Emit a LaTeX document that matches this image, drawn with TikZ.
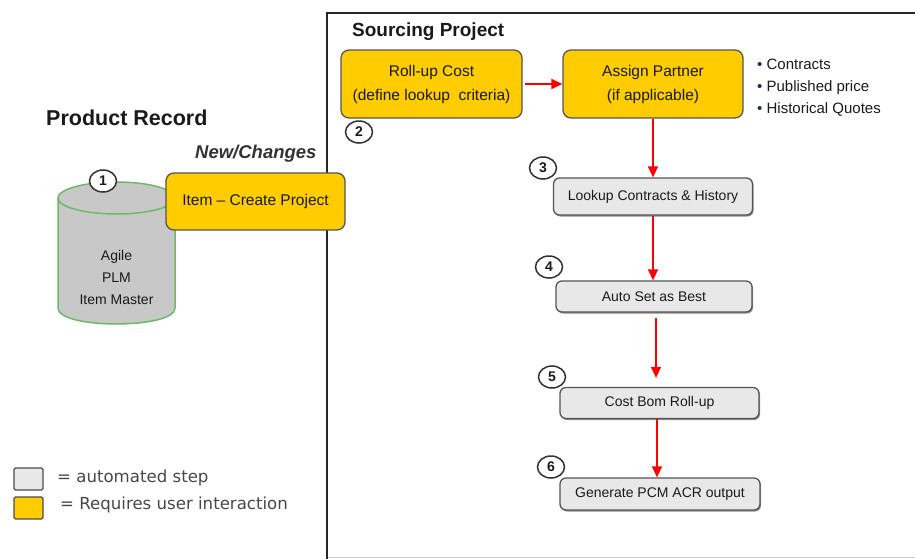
\documentclass[tikz,border=0pt]{standalone}
\usepackage{fontspec}
\setmainfont{Liberation Sans}
\newfontfamily\legendfont{DejaVu Sans}
\usetikzlibrary{arrows.meta,shapes.geometric,shadows}
\definecolor{uyellow}{HTML}{FFCC00}
\definecolor{agray}{HTML}{E8E8E8}
\definecolor{cylgray}{HTML}{C8C8C8}
\definecolor{cylgreen}{HTML}{6CB96C}
\definecolor{edgegray}{HTML}{555555}
\definecolor{bulletblue}{HTML}{1F2A6B}
\definecolor{txt}{HTML}{1A1A1A}
\begin{document}
\begin{tikzpicture}[x=1pt,y=-1pt,
  every node/.style={text=txt},
  userbox/.style={draw=edgegray, line width=1.3pt, fill=uyellow, rounded corners=8pt, inner sep=0pt, align=center, font=\fontsize{15.5}{24}\selectfont},
  autobox/.style={draw=edgegray, line width=1.3pt, fill=agray, rounded corners=6pt, inner sep=0pt, align=center, font=\fontsize{14}{18}\selectfont, drop shadow={shadow xshift=1pt, shadow yshift=-1.5pt, fill=black!45, opacity=1}},
  num/.style={ellipse, draw=black!80, line width=1.5pt, fill=white, minimum width=27pt, minimum height=22pt, inner sep=0pt, font=\fontsize{14}{14}\selectfont\bfseries},
  flow/.style={draw=red, line width=1.4pt, -{Triangle[length=11pt,width=10pt]}},
  title/.style={font=\fontsize{19.5}{22}\selectfont\bfseries, anchor=west, inner sep=0pt},
  bullet/.style={anchor=base west, inner sep=0pt, font=\fontsize{15}{18}\selectfont},
  legtext/.style={anchor=west, inner sep=0pt, font=\legendfont\fontsize{16.6}{18}\selectfont, text=black!72}
]
\useasboundingbox (0,0) rectangle (915,558);
\clip (0,0) rectangle (915,558);

% frame
\draw[black!20, line width=1pt] (327,557.5) -- (915,557.5);
\draw[black!85, line width=2.6pt] (327,570) -- (327,13) -- (930,13);

% titles
\node[title, font=\fontsize{21.5}{22}\selectfont\bfseries] (prodrec) at (46,118) {Product Record};
\node[title, font=\fontsize{18.5}{22}\selectfont\bfseries\itshape, text=black!80] (newch) at (195,154) {New/Changes};
\node[title, font=\fontsize{19}{22}\selectfont\bfseries] (sourcing) at (352,32) {Sourcing Project};

% cylinder
\fill[cylgray] (58,198) rectangle (175,308);
\fill[cylgray] (116.5,308) ellipse [x radius=58.5, y radius=16];
\draw[cylgreen, line width=1.5pt] (58,198) -- (58,308) .. controls (58,329.3) and (175,329.3) .. (175,308) -- (175,198);
\draw[cylgreen, line width=1.5pt, fill=cylgray] (116.5,198) ellipse [x radius=58.5, y radius=16];
\node[align=center, font=\fontsize{14}{22}\selectfont, inner sep=0pt] (plm) at (116.5,277) {Agile\\PLM\\Item Master};

% boxes
\node[userbox, minimum width=179pt, minimum height=57pt] (item) at (255.5,201.5) {Item -- Create Project};
\node[userbox, minimum width=181pt, minimum height=68pt] (roll) at (431.5,84) {Roll-up Cost\\(define lookup\ \ criteria)};
\node[userbox, minimum width=180pt, minimum height=68pt] (assign) at (653,84) {Assign Partner\\(if applicable)};
\node[autobox, minimum width=199pt, minimum height=37pt] (lookup) at (653,196.5) {Lookup Contracts \& History};
\node[autobox, minimum width=196pt, minimum height=31pt] (autobest) at (654,296.5) {Auto Set as Best};
\node[autobox, minimum width=199pt, minimum height=31pt] (cost) at (659.5,403) {Cost Bom Roll-up};
\node[autobox, minimum width=200pt, minimum height=32pt] (gen) at (660,494) {Generate PCM ACR output};

% bullets
\node[bullet] (b1) at (757,69) {\textcolor{bulletblue}{\textbullet} Contracts};
\node[bullet] (b2) at (757,91) {\textcolor{bulletblue}{\textbullet} Published price};
\node[bullet] (b3) at (757,113) {\textcolor{bulletblue}{\textbullet} Historical Quotes};

% arrows
\draw[flow] ([xshift=2pt]roll.east) -- (assign.west);
\draw[flow] (assign.south) -- (assign.south |- lookup.north);
\draw[flow] (lookup.south) -- (lookup.south |- autobest.north);
\draw[flow] ([xshift=2pt,yshift=-5pt]autobest.south) -- ([xshift=2pt,yshift=9pt]autobest.south |- cost.north);
\draw[flow] ([xshift=-2.5pt]cost.south) -- ([xshift=-2.5pt]cost.south |- gen.north);

% numbers
\node[num] (n1) at (103,181) {1};
\node[num] (n2) at (359,132) {2};
\node[num] (n3) at (543,168) {3};
\node[num] (n4) at (549,267) {4};
\node[num] (n5) at (552,377) {5};
\node[num] (n6) at (551,467) {6};

% legend
\node[draw=black!70, line width=1.3pt, fill=agray, rounded corners=1.5pt, minimum width=29pt, minimum height=22pt, inner sep=0pt] (lg1) at (28.5,479) {};
\node[draw=black!70, line width=1.3pt, fill=uyellow, rounded corners=1.5pt, minimum width=29pt, minimum height=22pt, inner sep=0pt] (lg2) at (28.5,508) {};
\node[legtext] (lt1) at (57,478) {= automated step};
\node[legtext] (lt2) at (60,505) {= Requires user interaction};
\end{tikzpicture}
\end{document}
